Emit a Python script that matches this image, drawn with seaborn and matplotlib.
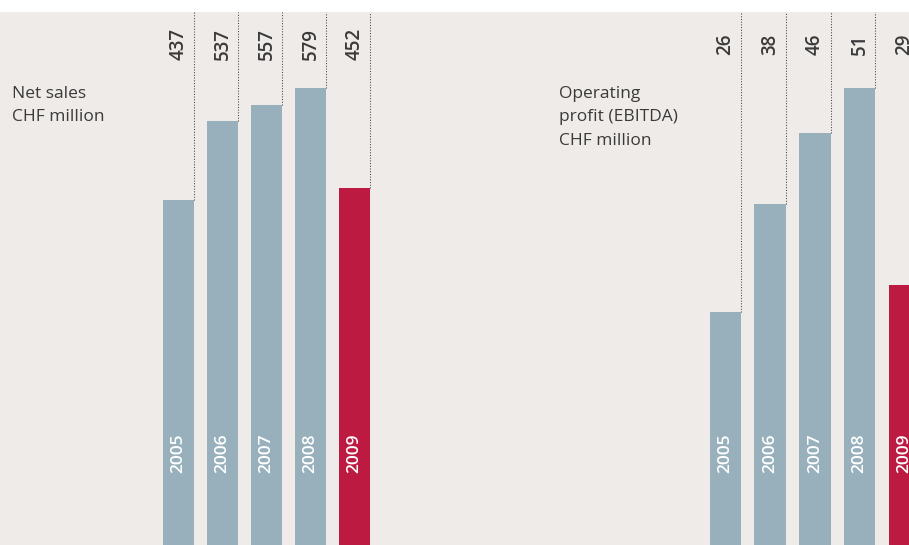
import matplotlib
matplotlib.use("Agg")
import matplotlib.pyplot as plt
import matplotlib.transforms as mtransforms
from matplotlib.patches import Rectangle
import seaborn as sns

# data
years = ["2005", "2006", "2007", "2008", "2009"]
net_sales = [437, 537, 557, 579, 452]
ebitda = [26, 38, 46, 51, 29]

bg = "#efebe8"
blue = "#97b0bc"
red = "#bd1a41"
bar_colors = [blue, blue, blue, blue, red]
text_col = "#3a3a3a"

sns.set_theme(style="white")
plt.rcParams["font.family"] = ["Open Sans", "DejaVu Sans"]

W, H = 909, 545
fig = plt.figure(figsize=(W / 100, H / 100), dpi=100, facecolor="white")
# beige panel under the white top strip
fig.patches.append(Rectangle((0, 0), 1, 533 / H, transform=fig.transFigure,
                             facecolor=bg, edgecolor="none", zorder=-10))

bar_w = 0.705


def panel(left_px, step_px, values, top_val, title, title_x):
    ax = fig.add_axes([left_px / W, 0, 5 * step_px / W, 533 / H])
    ax.patch.set_alpha(0)
    sns.barplot(x=years, y=values, hue=years, palette=bar_colors, legend=False,
                width=bar_w, saturation=1, linewidth=0, ax=ax)
    ax.set_xlim(-0.5, 4.5)
    ax.set_ylim(0, top_val)
    for s in ax.spines.values():
        s.set_visible(False)
    ax.set_xticks([])
    ax.set_yticks([])
    ax.set_xlabel("")
    ax.set_ylabel("")
    trans = mtransforms.blended_transform_factory(ax.transData, ax.transAxes)
    for i, (yr, v) in enumerate(zip(years, values)):
        ax.vlines(i + bar_w / 2, v, top_val, colors="#444444", linestyles=(0, (1, 1.6)),
                  linewidth=0.75)
        ax.text(i, 0.94, str(v), transform=trans, rotation=90, ha="center", va="center",
                fontsize=13.5, fontweight="semibold", color=text_col)
        ax.text(i, 0.1726, yr, transform=trans, rotation=90, ha="center", va="center",
                fontsize=12.5, fontweight="semibold", color="white")
    fig.text(title_x / W, 1 - 86 / H, title, ha="left", va="top", fontsize=12.5,
             color=text_col, linespacing=1.62)
    return ax


panel(178.5 - 22, 44, net_sales, 533 / (457 / 579), "Net sales\nCHF million", 12)
panel(725.5 - 22.4, 44.75, ebitda, 533 / (457 / 51),
      "Operating\nprofit (EBITDA)\nCHF million", 559)

fig.savefig("out.png", dpi=100, facecolor="white")
